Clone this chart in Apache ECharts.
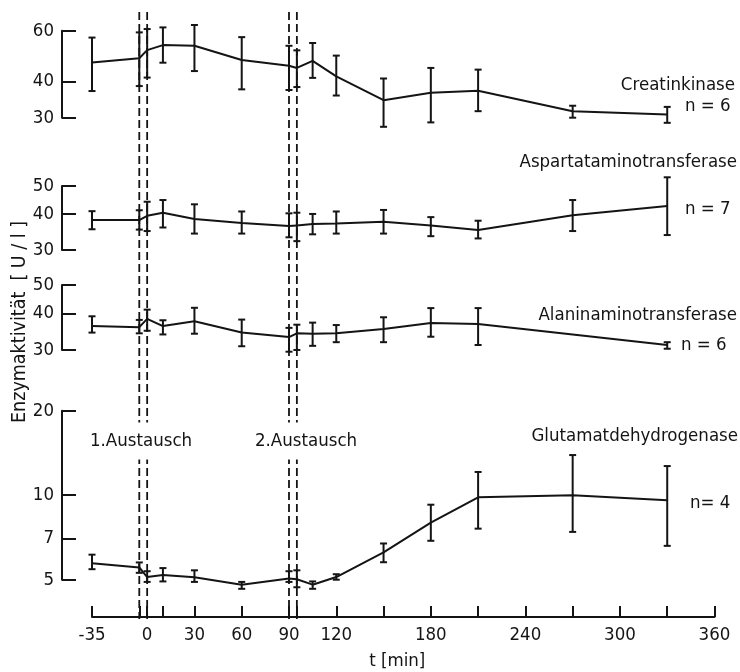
<!DOCTYPE html>
<html><head><meta charset="utf-8">
<script src="https://cdn.jsdelivr.net/npm/echarts@6/dist/echarts.min.js"></script>
<style>html,body{margin:0;padding:0;background:#fff}#c{width:740px;height:672px}</style>
</head><body><div id="c"></div>
<script>
// ---- data ----
const timeMin = [-35, -5, 0, 10, 30, 60, 90, 95, 105, 120, 150, 180, 210, 270, 330];
const xTickValues = [-35, -5, 0, 10, 30, 60, 90, 95, 120, 150, 180, 210, 240, 270, 300, 330, 360];
const xLabelValues = [-35, 0, 30, 60, 90, 120, 180, 240, 300, 360];
const exchangeTimes = [-5, 0, 90, 95];

const ckMean = [46.6, 48.2, 51.4, 53.5, 53.2, 47.5, 45.4, 44.6, 47.2, 41.7, 34.5, 36.6, 37.2, 31.6, 30.8];
const ckLow  = [37.1, 38.6, 41.3, 46.5, 43.5, 37.6, 37.4, 38.3, 41.2, 35.8, 27.9, 28.9, 31.6, 30.0, 28.8];
const ckHigh = [56.8, 59.2, 60.8, 61.6, 62.8, 57.0, 53.2, 51.3, 54.4, 49.2, 41.0, 44.6, 44.0, 33.0, 32.7];

const asatMean = [38.1, 38.1, 39.4, 40.4, 38.4, 37.2, 36.3, 36.5, 36.9, 37.1, 37.6, 36.5, 35.2, 39.6, 42.6];
const asatLow  = [35.4, 35.3, 34.9, 35.9, 34.2, 34.2, 33.2, 32.2, 34.0, 34.2, 34.2, 33.5, 32.9, 34.9, 33.8];
const asatHigh = [40.9, 41.2, 44.1, 44.7, 43.2, 40.8, 40.2, 40.4, 40.0, 40.8, 41.3, 39.0, 37.9, 44.7, 53.6];

const alatMean = [36.2, 35.9, 38.3, 36.2, 37.6, 34.4, 33.2, 34.2, 34.1, 34.2, 35.4, 37.1, 36.8, null, 31.2];
const alatLow  = [34.4, 34.2, 34.9, 33.9, 34.1, 30.9, 29.6, 30.0, 31.0, 31.9, 31.9, 33.3, 31.2, null, 30.3];
const alatHigh = [39.1, 38.0, 41.2, 37.9, 41.8, 38.1, 35.7, 36.6, 37.2, 36.5, 38.8, 41.7, 41.7, null, 31.9];

const gldhMean = [5.72, 5.53, 5.11, 5.20, 5.10, 4.80, 5.05, 5.02, 4.80, 5.11, 6.26, 7.98, 9.83, 10.0, 9.60];
const gldhLow  = [5.45, 5.29, 4.91, 4.93, 4.91, 4.64, 4.91, 4.70, 4.64, 5.00, 5.77, 6.88, 7.60, 7.40, 6.60];
const gldhHigh = [6.14, 5.76, 5.36, 5.50, 5.40, 4.91, 5.36, 5.40, 4.93, 5.23, 6.73, 9.25, 12.1, 13.9, 12.7];

const ckTicks = [30, 40, 60];
const asatTicks = [30, 40, 50];
const alatTicks = [30, 40, 50];
const gldhTicks = [5, 7, 10, 20];

const enzymeNames = ['Creatinkinase', 'Aspartataminotransferase', 'Alaninaminotransferase', 'Glutamatdehydrogenase'];
const nLabels = ['n = 6', 'n = 7', 'n = 6', 'n= 4'];
const exchangeLabels = ['1.Austausch', '2.Austausch'];
const yAxisTitle = 'Enzymaktivität  [ U / l ]';
const xAxisTitle = 't [min]';

// ---- styling ----
const INK = '#141414';
const NUM_FONT = '"DejaVu Sans Condensed", "Liberation Sans Narrow", "Noto Sans", sans-serif';
const TXT_FONT = '"DejaVu Sans Condensed", "Liberation Sans Narrow", "Noto Sans", sans-serif';

const panels = [
  {mean: ckMean, low: ckLow, high: ckHigh, ticks: ckTicks, min: 30, max: 60, top: 30.7, height: 87},
  {mean: asatMean, low: asatLow, high: asatHigh, ticks: asatTicks, min: 30, max: 50, top: 186, height: 64},
  {mean: alatMean, low: alatLow, high: alatHigh, ticks: alatTicks, min: 30, max: 50, top: 285, height: 65},
  {mean: gldhMean, low: gldhLow, high: gldhHigh, ticks: gldhTicks, min: 5, max: 20, top: 410.7, height: 171}
];

const LEFT = 92, RIGHT = 25.5;
const grid = panels.map(p => ({left: LEFT, right: RIGHT, top: p.top, height: p.height}));
grid.push({left: LEFT, right: RIGHT, top: 12, height: 607});

const xAxis = grid.map((g, i) => {
  const base = {type: 'value', gridIndex: i, min: -35, max: 360, splitLine: {show: false}};
  if (i !== 3) return Object.assign(base, {show: false});
  return Object.assign(base, {
    offset: 37.3,
    axisLine: {show: true, onZero: false, lineStyle: {color: INK, width: 2}},
    axisTick: {show: true, inside: true, length: 11, customValues: xTickValues, lineStyle: {color: INK, width: 2}},
    axisLabel: {customValues: xLabelValues, margin: 9, color: INK, fontFamily: NUM_FONT, fontSize: 18.5},
    name: xAxisTitle, nameLocation: 'middle', nameGap: 35,
    nameTextStyle: {color: INK, fontFamily: TXT_FONT, fontSize: 18.5, padding: [0, 12, 0, 0]}
  });
});

const yAxis = panels.map((p, i) => ({
  type: 'log', logBase: 10, gridIndex: i, min: p.min, max: p.max, offset: 30,
  axisLine: {show: true, onZero: false, lineStyle: {color: INK, width: 2}},
  axisTick: {show: true, inside: true, length: 14, customValues: p.ticks, lineStyle: {color: INK, width: 2}},
  axisLabel: {customValues: p.ticks, margin: 8, color: INK, fontFamily: NUM_FONT, fontSize: 18.5},
  minorTick: {show: false}, splitLine: {show: false}
}));
yAxis.push({type: 'value', gridIndex: 4, min: 0, max: 1, show: false});

function errRender(params, api) {
  const x = api.value(0), lo = api.value(1), hi = api.value(2);
  if (lo == null || isNaN(lo)) return;
  const p1 = api.coord([x, lo]), p2 = api.coord([x, hi]);
  const w = 3.5;
  const st = {stroke: INK, lineWidth: 2};
  return {type: 'group', children: [
    {type: 'line', shape: {x1: p1[0], y1: p1[1], x2: p2[0], y2: p2[1]}, style: st},
    {type: 'line', shape: {x1: p1[0] - w, y1: p1[1], x2: p1[0] + w, y2: p1[1]}, style: st},
    {type: 'line', shape: {x1: p2[0] - w, y1: p2[1], x2: p2[0] + w, y2: p2[1]}, style: st}
  ]};
}

const series = [];
panels.forEach((p, i) => {
  series.push({
    type: 'line', xAxisIndex: i, yAxisIndex: i, clip: false, connectNulls: true,
    symbol: 'none', lineStyle: {color: INK, width: 2},
    data: timeMin.map((t, k) => [t, p.mean[k]])
  });
  series.push({
    type: 'custom', xAxisIndex: i, yAxisIndex: i, clip: false,
    renderItem: errRender,
    data: timeMin.map((t, k) => [t, p.low[k], p.high[k]]).filter(d => d[1] != null)
  });
});
series.push({
  type: 'custom', xAxisIndex: 4, yAxisIndex: 4, clip: false, z: 1,
  renderItem: function (params, api) {
    const x = api.value(0);
    const a = api.coord([x, 1]), b = api.coord([x, 0]);
    return {type: 'line', shape: {x1: a[0], y1: a[1], x2: b[0], y2: b[1]},
      style: {stroke: INK, lineWidth: 1.8, lineDash: [8, 4]}};
  },
  data: exchangeTimes.map(t => [t])
});

function txt(text, x, y, align, extra) {
  return {
    type: 'text', z: 100,
    style: Object.assign({text: text, x: x, y: y, align: align, verticalAlign: 'middle',
      fill: INK, fontFamily: TXT_FONT, fontSize: 18.5}, extra || {})
  };
}

const graphic = [
  txt(enzymeNames[0], 735, 85, 'right'),
  txt(nLabels[0], 685, 106, 'left'),
  txt(enzymeNames[1], 737, 162, 'right'),
  txt(nLabels[1], 685, 209, 'left'),
  txt(enzymeNames[2], 737, 315, 'right'),
  txt(nLabels[2], 681, 345, 'left'),
  txt(enzymeNames[3], 738, 436, 'right'),
  txt(nLabels[3], 690, 503, 'left'),
  txt(exchangeLabels[0], 88, 441, 'left', {backgroundColor: '#fff', padding: [9, 2]}),
  txt(exchangeLabels[1], 253, 441, 'left', {backgroundColor: '#fff', padding: [9, 2]}),
  {type: 'text', z: 100, x: 20, y: 322, rotation: Math.PI / 2,
   style: {text: yAxisTitle, x: 0, y: 0, align: 'center', verticalAlign: 'middle',
     fill: INK, fontFamily: TXT_FONT, fontSize: 19.5}}
];

const chart = echarts.init(document.getElementById('c'));
chart.setOption({
  animation: false,
  backgroundColor: '#fff',
  grid: grid, xAxis: xAxis, yAxis: yAxis, series: series, graphic: graphic
});
</script>
</body></html>
